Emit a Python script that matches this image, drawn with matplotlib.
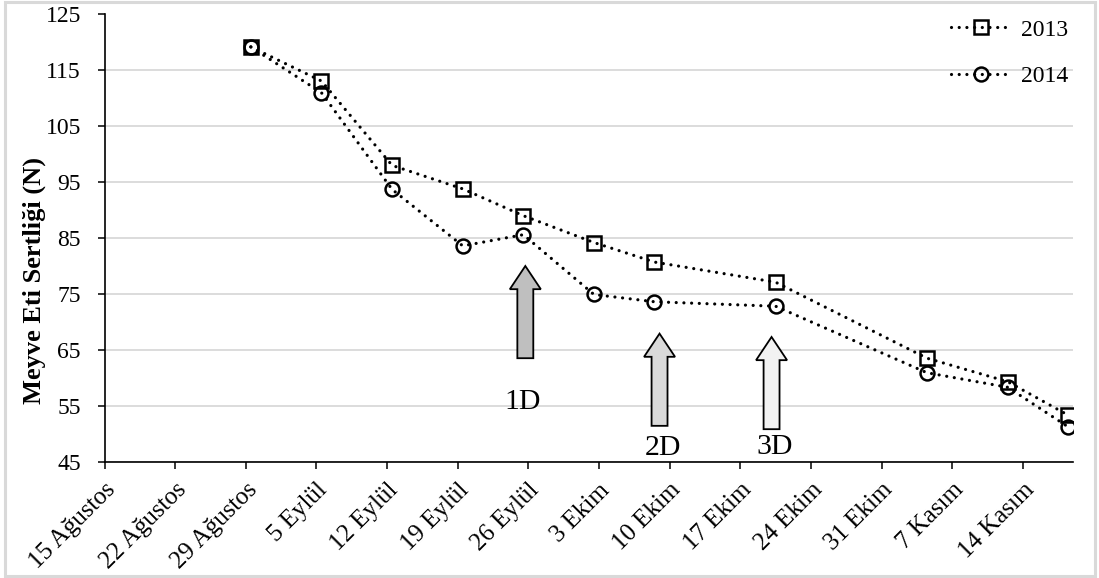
#!/usr/bin/env python3
"""
Meyve eti sertliği (N) - 2013 / 2014 hasat dönemi
"""

import numpy as np
import pandas as pd
import matplotlib
matplotlib.use("Agg")
import matplotlib.pyplot as plt
from matplotlib.patches import FancyArrow, Rectangle
from matplotlib.transforms import ScaledTranslation

# --- data -----------------------------------------------------------------
start_date = "2013-08-15"
sample_dates = ["2013-08-29", "2013-09-05", "2013-09-12", "2013-09-19",
                "2013-09-25", "2013-10-02", "2013-10-08", "2013-10-20",
                "2013-11-04", "2013-11-12", "2013-11-18"]
firmness_2013 = [119.2, 113.1, 98.0, 93.8, 89.0, 84.2, 80.7, 77.1, 63.5, 59.3, 53.3]
firmness_2014 = [119.2, 111.0, 93.7, 83.6, 85.6, 74.9, 73.6, 72.8, 60.9, 58.3, 51.2]

tick_labels = ["15 Ağustos", "22 Ağustos", "29 Ağustos", "5 Eylül", "12 Eylül",
               "19 Eylül", "26 Eylül", "3 Ekim", "10 Ekim", "17 Ekim",
               "24 Ekim", "31 Ekim", "7 Kasım", "14 Kasım"]

# harvest markers (1D, 2D, 3D)
arrow_labels = ["1D", "2D", "3D"]
arrow_x = [41.7, 55.0, 66.1]
arrow_tip = [80.0, 67.9, 67.3]
arrow_base = [63.5, 51.4, 50.8]
arrow_fill = ["#bfbfbf", "#d9d9d9", "#f2f2f2"]
label_x = [41.45, 55.3, 66.4]
label_y = [55.7, 47.4, 47.6]

# --- layout ---------------------------------------------------------------
W, H = 1099, 578
plt.rcParams['font.family'] = ['Liberation Serif', 'DejaVu Serif']

fig = plt.figure(figsize=(W / 100, H / 100), dpi=100)
ax_w = 1073.3 - 104.5
ax_h = 461.6 - 14.5
ax = fig.add_axes([104.5 / W, 1 - 461.6 / H, ax_w / W, ax_h / H])

t0 = pd.Timestamp(start_date)
days = np.array([(pd.Timestamp(d) - t0).days for d in sample_dates]) + 0.5

dotted = (0, (0.01, 2.4))
line_kw = dict(color="black", lw=2.3, ls=dotted, dash_capstyle="round",
               mfc="none", mec="black", mew=1.8, zorder=3)
ax.plot(days, firmness_2013, marker="s", ms=10.5, label="2013", **line_kw)
ax.plot(days, firmness_2014, marker="o", ms=10, label="2014", **line_kw)

# arrows
for x, tip, base, fc, lab, lx, ly in zip(arrow_x, arrow_tip, arrow_base, arrow_fill,
                                          arrow_labels, label_x, label_y):
    arr = FancyArrow(x, base, 0, tip - base, width=1.58, head_width=3.07,
                     head_length=4.15, length_includes_head=True,
                     facecolor=fc, edgecolor="black", lw=1.3, zorder=4)
    ax.add_patch(arr)
    ax.text(lx, ly, lab, fontsize=21.5, ha="center", va="center", zorder=5)

# axes
ax.set_xlim(0, 96)
ax.set_ylim(45, 125)
ax.set_xticks(np.arange(len(tick_labels)) * 7)
ax.set_xticklabels(tick_labels, rotation=45, ha="right", va="top",
                   rotation_mode="anchor", fontsize=18)
shift = ScaledTranslation(4 / 100, 0, fig.dpi_scale_trans)
for lbl in ax.get_xticklabels():
    lbl.set_transform(lbl.get_transform() + shift)
ax.set_yticks(np.arange(45, 126, 10))
ax.tick_params(axis="both", direction="out", length=5, width=1.1, color="black")
ax.tick_params(axis="y", pad=12, labelsize=17)
ax.tick_params(axis="x", pad=7.5)

ax.yaxis.grid(True, color="#d9d9d9", lw=1.3)
ax.set_axisbelow(True)
for s in ["top", "right"]:
    ax.spines[s].set_visible(False)
for s in ["left", "bottom"]:
    ax.spines[s].set_linewidth(1.2)

ax.set_ylabel("Meyve Eti Sertliği (N)", fontsize=19, fontweight="bold")
ax.yaxis.set_label_coords((46 - 104.5) / ax_w, (461.6 - 281) / ax_h)

leg = ax.legend(loc="upper right", bbox_to_anchor=(1068 / W, 1 - 19 / H),
                bbox_transform=fig.transFigure, frameon=False, fontsize=17,
                handlelength=2.5, handletextpad=0.45, labelspacing=1.05,
                borderpad=0, borderaxespad=0)

# outer frame
fig.patches.append(Rectangle((5 / W, 2 / H), (1095 - 5) / W, (576 - 2) / H,
                             transform=fig.transFigure, fill=False,
                             edgecolor="#d9d9d9", lw=2.2))

fig.savefig("out.png", dpi=100)
